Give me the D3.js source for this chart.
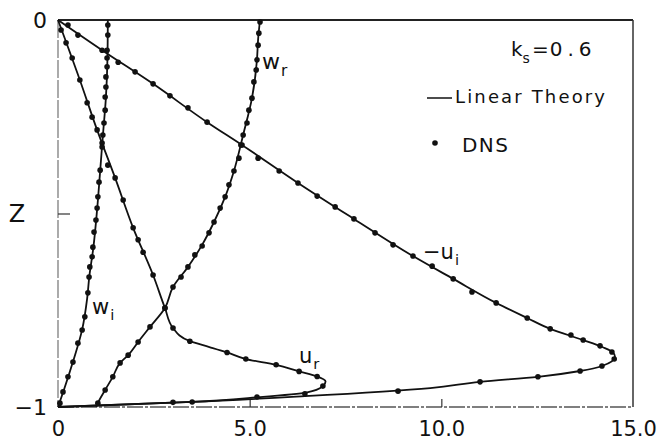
<!DOCTYPE html>
<html>
<head>
<meta charset="utf-8">
<script src="https://cdn.jsdelivr.net/npm/d3@7/dist/d3.min.js"></script>
<style>
  html, body { margin: 0; padding: 0; background: #fff; }
  svg { display: block; }
  text { font-family: "DejaVu Sans", sans-serif; fill: #111; }
</style>
</head>
<body>
<svg id="chart" width="661" height="441"></svg>
<script>
// Perturbation profiles versus depth Z, ks = 0.6
// Each point is [value, z]

// Linear theory curves
const theoryNegUi = [[0,0],[1.15,-0.078],[2.48,-0.165],[3.89,-0.264],[4.80,-0.323],[6.26,-0.421],[7.72,-0.514],[9.26,-0.610],[10.31,-0.669],[11.43,-0.731],[12.24,-0.770],[12.84,-0.798],[13.70,-0.827],[14.20,-0.845],[14.47,-0.858],[14.53,-0.870],[14.19,-0.894],[13.62,-0.907],[12.52,-0.922],[11.01,-0.935],[9.71,-0.951],[6.44,-0.972],[3.5,-0.987],[0,-1]];
const theoryUr = [[0,0],[0.57,-0.155],[1.02,-0.284],[1.49,-0.408],[1.96,-0.537],[2.48,-0.659],[2.79,-0.744],[3.0,-0.796],[3.44,-0.830],[3.95,-0.845],[4.41,-0.859],[4.90,-0.876],[5.69,-0.891],[6.29,-0.908],[6.76,-0.921],[6.98,-0.934],[6.90,-0.947],[6.50,-0.962],[5.2,-0.975],[3.5,-0.987],[0,-1]];
const theoryWr = [[5.27,0],[5.22,-0.05],[5.19,-0.103],[5.06,-0.202],[4.83,-0.297],[4.59,-0.39],[4.36,-0.457],[4.07,-0.522],[3.76,-0.581],[3.39,-0.638],[3.00,-0.690],[2.79,-0.744],[2.40,-0.793],[2.09,-0.832],[1.83,-0.866],[1.62,-0.886],[1.43,-0.922],[1.23,-0.956],[1.04,-0.99],[1.0,-1]];
const theoryWi = [[1.30,0],[1.29,-0.1],[1.25,-0.2],[1.17,-0.3],[1.10,-0.39],[1.02,-0.49],[0.92,-0.59],[0.82,-0.66],[0.76,-0.72],[0.63,-0.80],[0.40,-0.88],[0.14,-0.96],[0,-1]];

// DNS samples
const dnsNegUi = [[0.26,-0.013],[0.52,-0.039],[1.15,-0.078],[1.57,-0.109],[2.01,-0.134],[2.48,-0.165],[2.92,-0.196],[3.39,-0.227],[3.89,-0.264],[4.80,-0.323],[5.22,-0.357],[5.77,-0.390],[6.26,-0.421],[6.76,-0.455],[7.23,-0.483],[7.72,-0.514],[8.27,-0.550],[8.74,-0.581],[9.26,-0.610],[9.76,-0.636],[10.31,-0.669],[10.80,-0.703],[11.43,-0.731],[12.24,-0.770],[12.84,-0.798],[13.38,-0.814],[13.70,-0.827],[14.14,-0.842],[14.45,-0.858],[14.51,-0.876],[14.19,-0.894],[13.62,-0.907],[12.52,-0.922],[11.01,-0.935],[8.87,-0.959],[5.19,-0.974]];
const dnsUr = [[0.08,-0.026],[0.21,-0.059],[0.37,-0.098],[0.57,-0.155],[0.76,-0.214],[0.89,-0.251],[1.02,-0.284],[1.15,-0.318],[1.30,-0.375],[1.49,-0.408],[1.70,-0.465],[1.96,-0.537],[2.09,-0.568],[2.22,-0.600],[2.48,-0.659],[2.79,-0.744],[3.0,-0.796],[3.44,-0.830],[4.41,-0.859],[4.90,-0.876],[5.69,-0.891],[6.29,-0.908],[6.76,-0.921],[6.91,-0.946],[6.44,-0.966],[3.50,-0.987],[3.00,-0.988]];
const dnsWr = [[5.27,-0.005],[5.24,-0.034],[5.22,-0.065],[5.19,-0.103],[5.17,-0.129],[5.11,-0.160],[5.06,-0.202],[4.98,-0.233],[4.93,-0.266],[4.83,-0.297],[4.77,-0.323],[4.72,-0.357],[4.59,-0.390],[4.46,-0.426],[4.36,-0.457],[4.23,-0.486],[4.07,-0.522],[3.94,-0.550],[3.76,-0.584],[3.57,-0.607],[3.39,-0.638],[3.21,-0.664],[3.00,-0.690],[2.79,-0.744],[2.40,-0.793],[2.09,-0.832],[1.83,-0.866],[1.62,-0.886],[1.43,-0.922],[1.23,-0.956],[1.04,-0.990]];
const dnsWi = [[1.30,-0.013],[1.30,-0.039],[1.28,-0.078],[1.28,-0.098],[1.28,-0.121],[1.25,-0.147],[1.25,-0.173],[1.23,-0.199],[1.23,-0.233],[1.20,-0.266],[1.17,-0.297],[1.15,-0.328],[1.10,-0.388],[1.07,-0.419],[1.04,-0.457],[1.02,-0.486],[0.99,-0.517],[0.94,-0.548],[0.91,-0.587],[0.89,-0.612],[0.83,-0.638],[0.81,-0.664],[0.78,-0.705],[0.70,-0.767],[0.63,-0.801],[0.52,-0.835],[0.39,-0.884],[0.26,-0.922],[0.13,-0.961],[0.05,-0.990]];

// Axis ticks
const xTicks = [0, 5, 10, 15];
const xTickLabels = ["0", "5.0", "10.0", "15.0"];
const yTicks = [0, -0.5, -1];
const yTickLabels = ["0", "", "\u22121"];

const svg = d3.select("#chart");
const plotLeft = 58, plotRight = 633, plotTop = 20, plotBottom = 407;

const x = d3.scaleLinear().domain([0, 15]).range([plotLeft, plotRight]);
const y = d3.scaleLinear().domain([0, -1]).range([plotTop, plotBottom]);

// Frame
const frame = svg.append("g").attr("fill", "none");
frame.append("line").attr("x1", plotLeft).attr("x2", plotRight).attr("y1", plotTop).attr("y2", plotTop)
  .attr("stroke", "#222").attr("stroke-width", 1.8);
frame.append("line").attr("x1", plotRight).attr("x2", plotRight).attr("y1", plotTop).attr("y2", plotBottom)
  .attr("stroke", "#333").attr("stroke-width", 1.5);
frame.append("line").attr("x1", plotLeft).attr("x2", plotLeft).attr("y1", plotTop).attr("y2", plotBottom)
  .attr("stroke", "#666").attr("stroke-width", 1.1).attr("stroke-dasharray", "18,2");
frame.append("line").attr("x1", plotLeft).attr("x2", plotRight).attr("y1", plotBottom).attr("y2", plotBottom)
  .attr("stroke", "#555").attr("stroke-width", 1.3).attr("stroke-dasharray", "16,2,3,2");

// Axes with inward ticks
const xAxis = d3.axisBottom(x).tickValues(xTicks).tickSize(-8).tickPadding(14)
  .tickFormat((d, i) => xTickLabels[i]);
const gx = svg.append("g").attr("transform", `translate(0,${plotBottom})`).call(xAxis);
gx.select(".domain").remove();
gx.selectAll(".tick line").attr("stroke", "#333").attr("stroke-width", 1.2)
  .filter(d => d === 0 || d === 15).remove();
gx.selectAll(".tick text").attr("font-size", 21).attr("font-family", "DejaVu Sans").attr("fill", "#111");

const yAxis = d3.axisLeft(y).tickValues(yTicks).tickSize(-12).tickPadding(11)
  .tickFormat((d, i) => yTickLabels[i]);
const gy = svg.append("g").attr("transform", `translate(${plotLeft},0)`).call(yAxis);
gy.select(".domain").remove();
gy.selectAll(".tick line").attr("stroke", "#333").attr("stroke-width", 1.2)
  .filter(d => d === 0 || d === -1).remove();
gy.selectAll(".tick text").attr("font-size", 22).attr("font-family", "DejaVu Sans").attr("fill", "#111");

// Axis title
svg.append("text").attr("x", 17).attr("y", y(-0.5)).attr("dy", "0.36em")
  .attr("text-anchor", "middle").attr("font-size", 24).text("Z");

// Theory lines
const line = d3.line().x(d => x(d[0])).y(d => y(d[1])).curve(d3.curveMonotoneY);
const curves = svg.append("g").attr("fill", "none").attr("stroke", "#111").attr("stroke-width", 1.8);
[theoryNegUi, theoryUr, theoryWr, theoryWi].forEach(c => curves.append("path").attr("d", line(c)));

// DNS points
const dots = svg.append("g").attr("fill", "#111");
[dnsNegUi, dnsUr, dnsWr, dnsWi].forEach(set => {
  dots.selectAll(null).data(set).enter().append("circle")
    .attr("cx", d => x(d[0])).attr("cy", d => y(d[1])).attr("r", 2.8);
});

// Curve labels
function label(px, py, main, sub, size) {
  const t = svg.append("text").attr("x", px).attr("y", py).attr("font-size", size);
  t.append("tspan").text(main);
  t.append("tspan").attr("font-size", size * 0.7).attr("dy", size * 0.3).attr("dx", 1).text(sub);
}
label(262, 69, "w", "r", 22);
label(423, 259, "\u2212u", "i", 21);
label(92, 314, "w", "i", 21);
label(299, 363, "u", "r", 21);

// Parameter and legend
const ks = svg.append("text").attr("x", 511).attr("y", 56).attr("font-size", 20);
ks.append("tspan").text("k");
ks.append("tspan").attr("font-size", 14).attr("dy", 7).text("s");
ks.append("tspan").attr("dy", -7).attr("dx", 2).text("=");
ks.append("tspan").attr("dx", 1).attr("letter-spacing", 5).text("0.6");

svg.append("line").attr("x1", 427).attr("x2", 452).attr("y1", 98).attr("y2", 98)
  .attr("stroke", "#111").attr("stroke-width", 1.5);
svg.append("text").attr("x", 455).attr("y", 103).attr("font-size", 18)
  .attr("textLength", 150).attr("lengthAdjust", "spacing").text("Linear Theory");
svg.append("circle").attr("cx", 435).attr("cy", 143).attr("r", 2.8).attr("fill", "#111");
svg.append("text").attr("x", 462).attr("y", 152).attr("font-size", 20)
  .attr("textLength", 46).attr("lengthAdjust", "spacing").text("DNS");
</script>
</body>
</html>
